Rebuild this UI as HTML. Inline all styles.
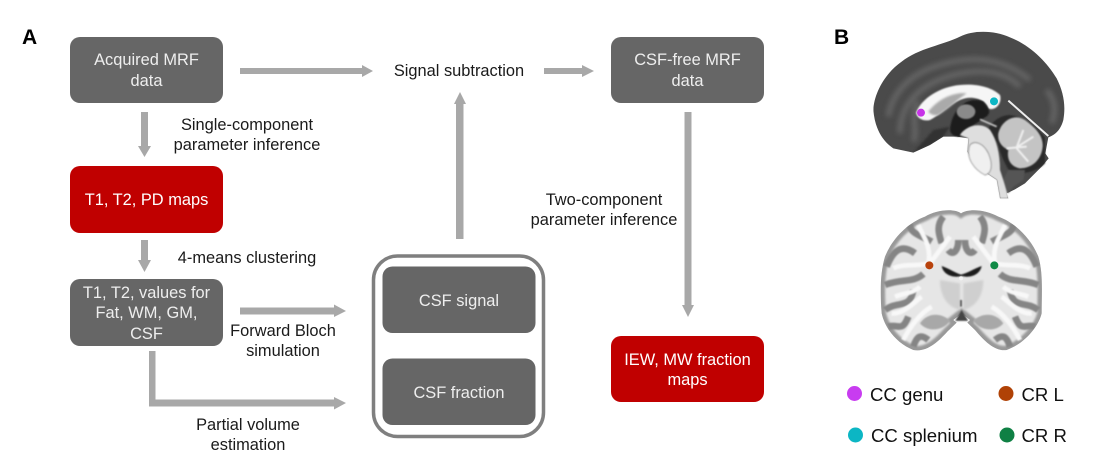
<!DOCTYPE html>
<html><head><meta charset="utf-8"><style>
html,body{margin:0;padding:0;background:#fff}
svg{display:block}
text{font-family:"Liberation Sans",Arial,sans-serif;font-size:16.4px;text-anchor:middle;fill:#1a1a1a}
.w{fill:#eee}.r{fill:#fff}
.b{font-weight:bold;font-size:21px;text-anchor:start;fill:#000}
.l{text-anchor:start;font-size:18.6px;fill:#111}
</style></head><body>
<svg width="1110" height="473" viewBox="0 0 1110 473" xmlns="http://www.w3.org/2000/svg">
<defs>
<filter id="b1" x="-20%" y="-20%" width="140%" height="140%"><feGaussianBlur stdDeviation="2"/></filter>
<filter id="b2" x="-20%" y="-20%" width="140%" height="140%"><feGaussianBlur stdDeviation="8"/></filter>
<filter id="b3" x="-20%" y="-20%" width="140%" height="140%"><feGaussianBlur stdDeviation="3"/></filter>
<clipPath id="sag"><path d="M40 240C42 190 75 130 125 95C175 55 250 45 300 20C340 0 400 0 450 22C510 45 560 95 590 145C610 185 618 225 610 270C602 300 585 315 565 322L556 370L566 385L545 410L495 460L465 478L440 490L445 505H420L410 450L380 430L345 405L322 365L325 325L290 320L250 320L210 345L160 368L100 355C70 335 45 300 40 240Z"/></clipPath>
<clipPath id="cor"><path d="M303 40C325 25 375 28 415 50C470 70 515 120 535 170C550 220 545 280 545 340C535 380 495 430 440 450C405 455 375 425 345 390L322 368L330 360L305 340L280 360L290 368L262 395C235 425 200 458 160 450C110 430 75 385 65 340C60 280 60 220 75 170C95 120 140 70 195 50C230 28 285 25 303 40Z"/></clipPath>
</defs>
<rect width="1110" height="473" fill="#fff"/>
<text class="b" x="22" y="44">A</text>
<text class="b" x="834" y="44">B</text>

<!-- boxes -->
<g fill="#666">
<rect x="70" y="37" width="153" height="66" rx="10"/>
<rect x="70" y="279" width="153" height="67" rx="10"/>
<rect x="382.500" y="266.500" width="153" height="66.500" rx="10"/>
<rect x="382.500" y="358.500" width="153" height="66.500" rx="10"/>
<rect x="611" y="37" width="153" height="66" rx="10"/>
</g>
<g fill="#c00000">
<rect x="70" y="166" width="153" height="67" rx="10"/>
<rect x="611" y="336" width="153" height="66" rx="10"/>
</g>
<rect x="373.500" y="256" width="170" height="180.500" rx="24" fill="none" stroke="#7f7f7f" stroke-width="3.500"/>

<!-- arrows -->
<g fill="#a8a8a8">
<path d="M240 68H362V65L373 71 362 77V74H240Z"/>
<path d="M141 112H148V146H151L144.500 157 138 146H141Z"/>
<path d="M141 240H148V260H151L144.500 272 138 260H141Z"/>
<path d="M240 307.500H334V304.500L346 311 334 317V314.500H240Z"/>
<path d="M149 351H155.500V399.500H334V397L346 403 334 409.500V406.500H149Z"/>
<path d="M456 239V104H454L460 92 466 104H463.500V239Z"/>
<path d="M544 68H582V65L594 71 582 77V74H544Z"/>
<path d="M684.500 112H691.500V305H694L688 317 682 305H684.500Z"/>
</g>

<!-- box labels -->
<text class="w" x="146.500" y="65">Acquired MRF</text>
<text class="w" x="146.500" y="86">data</text>
<text class="r" x="146.500" y="205">T1, T2, PD maps</text>
<text class="w" x="146.500" y="298">T1, T2, values for</text>
<text class="w" x="146.500" y="318">Fat, WM, GM,</text>
<text class="w" x="146.500" y="339">CSF</text>
<text class="w" x="459" y="306">CSF signal</text>
<text class="w" x="459" y="398">CSF fraction</text>
<text class="w" x="687.500" y="65">CSF-free MRF</text>
<text class="w" x="687.500" y="86">data</text>
<text class="r" x="687.500" y="365">IEW, MW fraction</text>
<text class="r" x="687.500" y="385">maps</text>

<!-- free labels -->
<text x="459" y="76">Signal subtraction</text>
<text x="247" y="130">Single-component</text>
<text x="247" y="150">parameter inference</text>
<text x="247" y="263">4-means clustering</text>
<text x="283" y="336">Forward Bloch</text>
<text x="283" y="356">simulation</text>
<text x="248" y="430">Partial volume</text>
<text x="248" y="450">estimation</text>
<text x="604" y="205">Two-component</text>
<text x="604" y="225">parameter inference</text>

<!-- sagittal brain -->
<g transform="translate(860 30) scale(.33333)">
<g clip-path="url(#sag)">
<rect x="0" y="0" width="660" height="540" fill="#4a4a4a"/>
<g filter="url(#b2)" fill="none" stroke="#6e6e6e" stroke-width="16" opacity=".8">
<path d="M85 260C95 190 150 130 240 105C320 80 420 75 510 150"/>
<path d="M120 310C120 230 170 165 280 135C360 115 430 120 480 170"/>
<path d="M160 335C175 300 150 270 175 215"/>
<path d="M560 180C585 210 590 240 575 280"/>
</g>
<path d="M250 320L210 345L160 368L220 300L270 290Z" fill="#333" filter="url(#b3)"/>
</g>
<path d="M168 248C185 205 240 170 300 165C345 160 395 170 420 195C428 220 405 245 385 235C380 215 350 198 315 205C275 215 255 245 210 270C190 275 170 265 168 248Z" fill="#f6f6f6" filter="url(#b1)"/>
<path d="M205 245C235 205 285 185 320 190C295 205 270 235 235 255C220 258 210 252 205 245Z" fill="#aaa" filter="url(#b3)"/>
<path d="M270 300C275 240 320 195 370 215C385 235 400 250 370 265C345 285 305 300 300 320C285 320 272 315 270 300Z" fill="#1c1c1c" filter="url(#b1)"/>
<ellipse cx="318" cy="245" rx="28" ry="22" fill="#8a8a8a" filter="url(#b1)"/>
<path d="M385 295C400 270 425 255 450 255C490 260 530 290 555 322L555 370L555 400C530 425 490 435 450 425C435 405 420 370 415 345C405 325 395 310 385 295Z" fill="#2c2c2c" filter="url(#b1)"/>
<path d="M445 420L495 420L490 450L460 470L445 490L430 450Z" fill="#555" filter="url(#b1)"/>
<path d="M300 315C320 285 365 275 390 300C410 330 420 370 420 420C430 450 440 480 445 505H420L410 450L380 430L345 405L322 365L325 325Z" fill="#dedede" filter="url(#b1)"/>
<path d="M330 345C345 330 370 340 385 370C400 405 395 430 375 435C345 420 315 385 330 345Z" fill="#f0f0f0" stroke="#666" stroke-width="2" filter="url(#b1)"/>
<path d="M415 310C425 270 465 250 495 270C530 295 550 320 548 350C545 385 520 415 480 415C450 410 440 385 445 360C425 350 412 335 415 310Z" fill="#c4c4c4" filter="url(#b1)"/>
<path d="M440 355L500 350M470 352L490 300M470 352L520 320M470 355L505 395" fill="none" stroke="#f0f0f0" stroke-width="6" filter="url(#b1)"/>
<path d="M445 212L565 318" stroke="#eee" stroke-width="6" fill="none"/>
<path d="M360 268L410 290" stroke="#ccc" stroke-width="5" fill="none" filter="url(#b1)"/>
<circle cx="183" cy="248" r="12" fill="#c733e8"/>
<circle cx="402" cy="214" r="12" fill="#0cb6c4"/>
</g>

<!-- coronal brain -->
<g transform="translate(860 200) scale(.33333)">
<g clip-path="url(#cor)">
<rect x="0" y="0" width="660" height="510" fill="#e6e6e6"/>
<path d="M303 40C325 25 375 28 415 50C470 70 515 120 535 170C550 220 545 280 545 340C535 380 495 430 440 450C405 455 375 425 345 390L322 368L330 360L305 340L280 360L290 368L262 395C235 425 200 458 160 450C110 430 75 385 65 340C60 280 60 220 75 170C95 120 140 70 195 50C230 28 285 25 303 40Z" fill="none" stroke="#999" stroke-width="26" filter="url(#b3)"/>
<g fill="none" stroke="#858585" stroke-width="20" filter="url(#b1)">
<path d="M80 200C100 150 125 130 165 160M150 70C145 100 190 110 215 125M250 50C225 80 240 110 245 130"/>
<path d="M530 200C510 150 485 130 445 160M460 70C465 100 420 110 395 125M360 50C385 80 370 110 365 130"/>
<path d="M75 255C120 235 160 250 190 222M535 255C490 235 450 250 420 222"/>
<path d="M75 330C115 300 150 330 160 270M535 330C495 300 460 330 450 270"/>
<path d="M85 380C115 370 125 400 145 350M525 380C495 370 485 400 465 350"/>
<path d="M160 440C170 410 180 400 205 420M450 440C440 410 430 400 405 420"/>
<path d="M265 150C280 170 295 150 295 120M345 150C330 170 315 150 315 120"/>
</g>
<g fill="none" stroke="#f8f8f8" stroke-width="14" filter="url(#b1)">
<path d="M175 75C190 110 215 140 205 190C170 200 130 190 100 205M210 190L270 110"/>
<path d="M435 75C420 110 395 140 405 190C440 200 480 190 510 205M400 190L340 110"/>
<path d="M95 340C130 345 170 300 185 290M105 290C130 280 160 280 180 260M130 420C150 380 180 340 215 320"/>
<path d="M515 340C480 345 440 300 425 290M505 290C480 280 450 280 430 260M480 420C460 380 430 340 395 320"/>
</g>
</g>
<path d="M303 35V185" stroke="#666" stroke-width="6" fill="none" filter="url(#b1)"/>
<path d="M240 240C240 285 260 320 300 330V250ZM370 240C370 285 350 320 310 330V250Z" fill="#cfcfcf" filter="url(#b3)"/>
<path d="M245 198C265 205 290 220 303 224C320 220 345 205 365 198C360 225 330 235 305 228C280 235 250 225 245 198Z" fill="#1f1f1f" filter="url(#b1)"/>
<circle cx="303" cy="235" r="6" fill="#f4f4f4"/>
<path d="M303 300V320M290 360L305 335L320 360Z" fill="#444" stroke="#444" stroke-width="5" filter="url(#b1)"/>
<path d="M180 370C200 340 240 335 270 362C255 390 205 400 180 370ZM430 370C410 340 370 335 340 362C355 390 405 400 430 370Z" fill="#a8a8a8" filter="url(#b1)"/>
<circle cx="208" cy="196" r="12" fill="#b8420c"/>
<circle cx="403" cy="196" r="12" fill="#0f8a45"/>
</g>

<!-- legend -->
<circle cx="854.500" cy="393.500" r="7.500" fill="#c83cf0"/>
<text class="l" x="870" y="401">CC genu</text>
<circle cx="1006" cy="393.500" r="7.500" fill="#b04206"/>
<text class="l" x="1021.500" y="401">CR L</text>
<circle cx="855.500" cy="435" r="7.500" fill="#0cb6c4"/>
<text class="l" x="871" y="442">CC splenium</text>
<circle cx="1007" cy="435" r="7.500" fill="#0f8044"/>
<text class="l" x="1021.500" y="442">CR R</text>
</svg>
</body></html>
